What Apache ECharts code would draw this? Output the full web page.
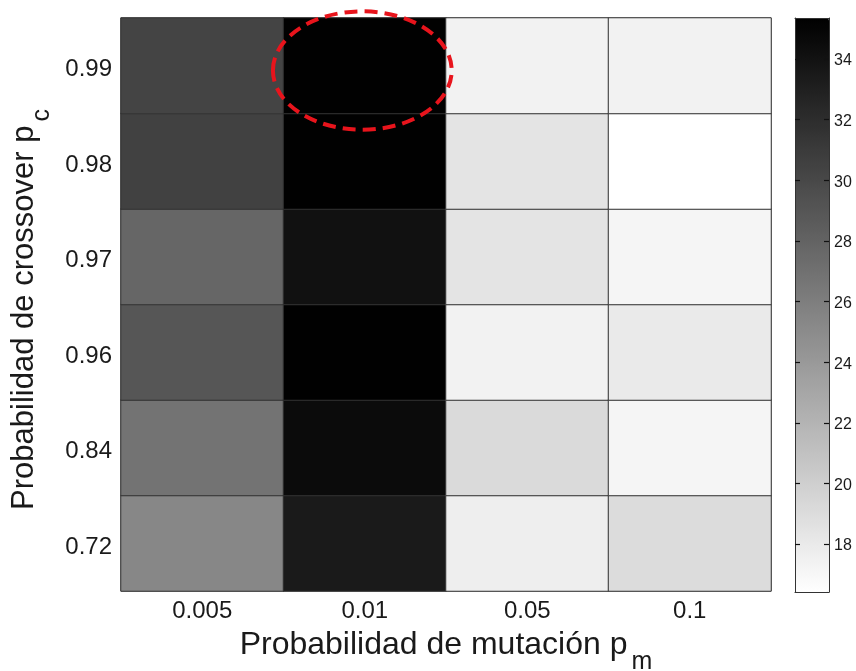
<!DOCTYPE html>
<html>
<head>
<meta charset="utf-8">
<script src="https://cdn.jsdelivr.net/npm/echarts@6/dist/echarts.min.js"></script>
<style>html,body{margin:0;padding:0;background:#fff;}#c{width:856px;height:671px;}</style>
</head>
<body>
<div id="c"></div>
<script>
// Categories
const pmLabels = ['0.005', '0.01', '0.05', '0.1'];
const pcLabels = ['0.72', '0.84', '0.96', '0.97', '0.98', '0.99']; // bottom to top
// Values per column (p_m), listed bottom (0.72) to top (0.99)
const col_0005 = [25.3, 26.8, 29.0, 27.8, 30.5, 30.3];
const col_001  = [33.4, 34.5, 35.3, 34.1, 35.3, 35.3];
const col_005  = [17.7, 19.2, 17.4, 18.4, 18.4, 17.4];
const col_01   = [19.0, 17.15, 18.0, 17.15, 16.42, 17.4];
// Colour scale range and colorbar ticks
const scaleMin = 16.42;
const scaleMax = 35.35;
const cbTicks = [18, 20, 22, 24, 26, 28, 30, 32, 34];
// Highlighted cell
const highlight = ['0.01', '0.99'];

const cols = [col_0005, col_001, col_005, col_01];
const data = [];
cols.forEach((col, i) => col.forEach((v, j) => data.push([i, j, v])));

const FONT = '"Liberation Sans", Arial, Helvetica, sans-serif';
const TXT = '#1a1a1a';
const chart = echarts.init(document.getElementById('c'), null, {renderer: 'canvas'});

const option = {
  backgroundColor: '#ffffff',
  animation: false,
  textStyle: {fontFamily: FONT},
  grid: [
    {left: 121, right: 85, top: 18, bottom: 80, show: true, borderColor: '#666', borderWidth: 1,
      containLabel: false, outerBoundsMode: 'none'},
    {left: 795, width: 34, top: 18, height: 574, show: false, outerBoundsMode: 'none'}
  ],
  xAxis: [
    {
      type: 'category', data: pmLabels, gridIndex: 0, position: 'bottom',
      axisLine: {show: false}, axisTick: {show: false}, splitLine: {show: false},
      axisLabel: {fontSize: 24, color: TXT, margin: 8, fontFamily: FONT},
      name: '{a|Probabilidad de mutación p}{s|m}', nameLocation: 'middle', nameGap: 25,
      nameTextStyle: {
        fontFamily: FONT, color: TXT,
        rich: {
          a: {fontSize: 32, fontFamily: FONT, color: TXT},
          s: {fontSize: 25, fontFamily: FONT, color: TXT, padding: [34, 0, 0, 4]}
        }
      }
    },
    {type: 'value', gridIndex: 1, min: 0, max: 1, position: 'bottom', z: 10,
      axisLine: {show: true, onZero: false, lineStyle: {color: '#333', width: 1}},
      axisTick: {show: false}, axisLabel: {show: false}, splitLine: {show: false}},
    {type: 'value', gridIndex: 1, min: 0, max: 1, position: 'top', z: 10,
      axisLine: {show: true, onZero: false, lineStyle: {color: '#333', width: 1}},
      axisTick: {show: false}, axisLabel: {show: false}, splitLine: {show: false}}
  ],
  yAxis: [
    {
      type: 'category', data: pcLabels, gridIndex: 0,
      axisLine: {show: false}, axisTick: {show: false}, splitLine: {show: false},
      axisLabel: {
        color: TXT, margin: 9, fontFamily: FONT, formatter: '{v|{value}}',
        rich: {v: {fontSize: 24, color: TXT, fontFamily: FONT, padding: [8, 0, 0, 0]}}
      },
      name: '{a|Probabilidad de crossover p}{s|c}', nameLocation: 'middle', nameGap: 60, nameRotate: 90,
      nameTextStyle: {
        fontFamily: FONT, color: TXT, padding: [0, 10, 0, 0],
        rich: {
          a: {fontSize: 31, fontFamily: FONT, color: TXT},
          s: {fontSize: 25, fontFamily: FONT, color: TXT, padding: [34, 0, 0, 4]}
        }
      }
    },
    {
      type: 'value', gridIndex: 1, position: 'right', min: scaleMin, max: scaleMax, z: 10,
      axisLine: {show: true, onZero: false, lineStyle: {color: '#333', width: 1}},
      axisTick: {show: true, inside: true, length: 5, customValues: cbTicks, lineStyle: {color: '#111', width: 1.2}},
      axisLabel: {
        show: true, customValues: cbTicks, color: TXT, margin: 5, fontFamily: FONT, formatter: '{v|{value}}',
        rich: {v: {fontSize: 16, color: TXT, fontFamily: FONT, padding: [4, 0, 0, 0]}}
      },
      splitLine: {show: false}
    },
    {
      type: 'value', gridIndex: 1, position: 'left', min: scaleMin, max: scaleMax, z: 10,
      axisLine: {show: true, onZero: false, lineStyle: {color: '#333', width: 1}},
      axisTick: {show: true, inside: true, length: 5, customValues: cbTicks, lineStyle: {color: '#111', width: 1.2}},
      axisLabel: {show: false},
      splitLine: {show: false}
    }
  ],
  visualMap: {
    type: 'continuous', min: scaleMin, max: scaleMax, seriesIndex: 0,
    inRange: {color: ['#ffffff', '#000000']},
    calculable: false, orient: 'vertical', left: 795, top: 18,
    itemWidth: 34, itemHeight: 574, padding: 0, hoverLink: false,
    text: null, showLabel: false, z: 2
  },
  series: [{
    type: 'heatmap', xAxisIndex: 0, yAxisIndex: 0, data: data,
    itemStyle: {borderColor: '#333', borderWidth: 1},
    emphasis: {disabled: true}
  }]
};
chart.setOption(option);

// Red dashed ellipse around the highlighted cell
const c = chart.convertToPixel({gridIndex: 0}, highlight);
const c2 = chart.convertToPixel({gridIndex: 0}, [pmLabels[2], pcLabels[4]]);
const cellW = c2[0] - c[0];
const cellH = c2[1] - c[1];
chart.setOption({
  graphic: [{
    type: 'ellipse', z: 100,
    shape: {cx: c[0] - 0.015 * cellW, cy: c[1] + 0.05 * cellH, rx: 0.55 * cellW, ry: 0.62 * cellH},
    style: {fill: 'none', stroke: '#e8141c', lineWidth: 4, lineDash: [13, 7]}
  }]
});
</script>
</body>
</html>
